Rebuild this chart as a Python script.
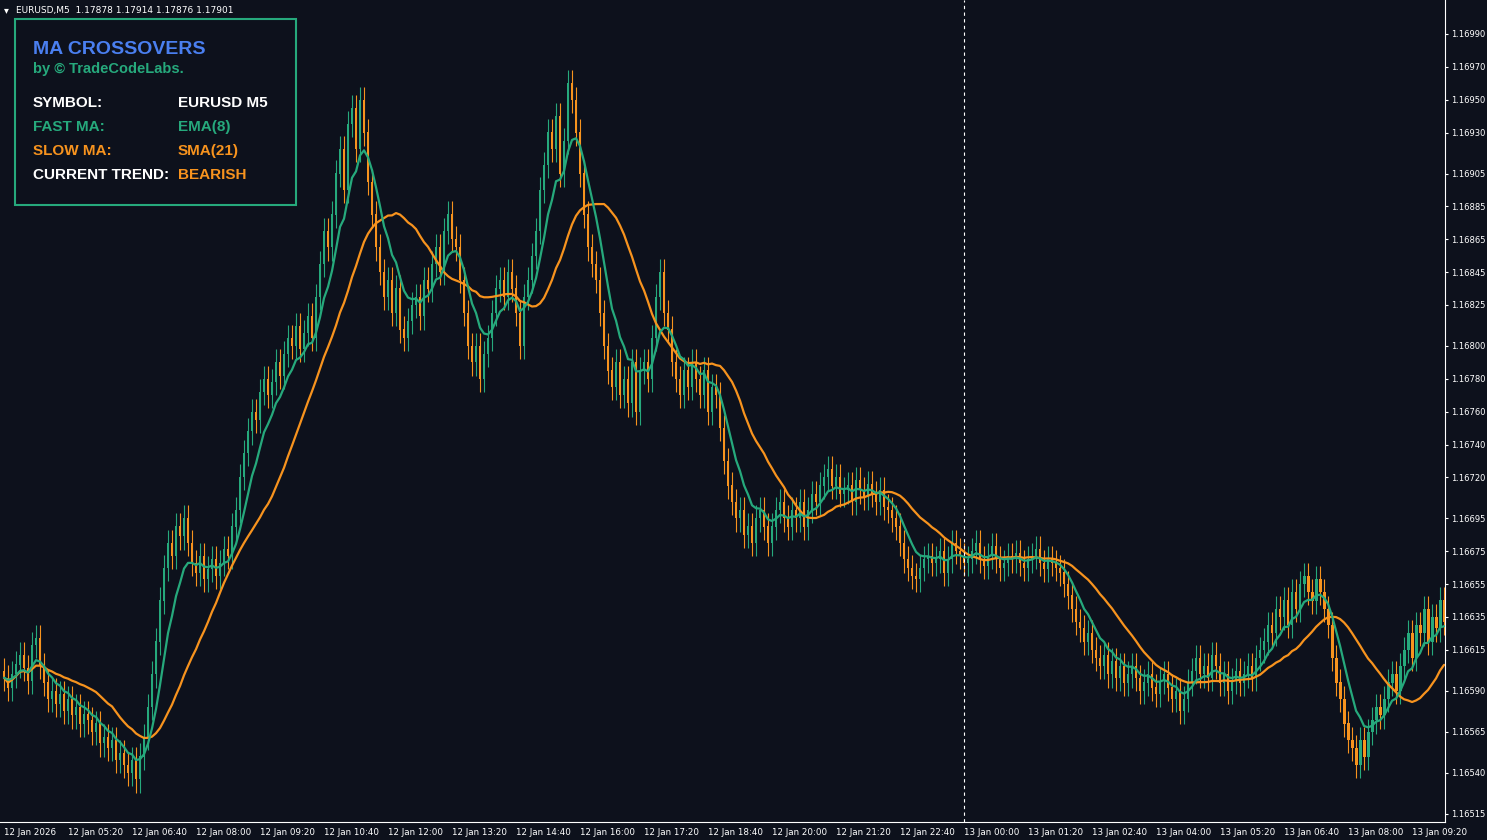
import numpy as np, pandas as pd, matplotlib
matplotlib.use("Agg")
import matplotlib.pyplot as plt, seaborn as sns

close_pts = [598,592,600,606,612,604,596,618,622,605,
595,585,590,582,588,578,585,575,580,570,
576,572,565,570,558,562,555,560,548,552,
545,540,548,536,550,562,
580,600,620,645,665,680,672,690,684,695,680,
668,662,672,658,664,670,660,668,676,672,690,700,
720,735,748,760,755,772,780,770,778,790,782,795,805,
800,812,798,808,818,805,830,850,870,860,
880,905,920,895,935,945,920,950,930,
900,880,860,845,830,840,820,835,810,
805,815,825,830,818,840,835,850,860,845,
870,880,865,860,
840,820,800,790,800,780,795,805,
820,835,840,830,845,835,820,800,830,840,
855,870,895,910,930,920,940,905,925,960,950,930,
905,880,860,850,840,820,
800,785,775,790,770,780,765,790,760,785,790,780,
805,830,845,820,810,
790,780,770,785,775,790,780,770,785,760,775,770,750,
730,715,705,695,700,685,690,680,695,700,690,680,
690,700,705,695,690,700,695,705,690,700,710,705,715,720,725,
715,720,710,712,715,705,718,712,708,716,710,705,712,702,700,695,690,680,
670,665,660,658,665,670,672,668,670,675,662,670,
680,675,672,668,670,675,680,670,666,672,678,670,665,668,672,670,674,668,665,670,672,676,668,664,670,668,665,662,
655,648,640,632,628,620,625,615,610,605,612,600,608,598,605,595,600,
605,598,590,595,600,592,588,596,600,592,585,590,578,585,595,602,610,600,605,598,
612,605,595,600,590,596,602,595,600,605,598,610,615,
620,630,625,640,635,645,630,650,640,655,660,650,645,658,650,640,630,
610,595,585,570,560,555,545,560,550,565,572,580,575,
585,595,600,590,605,615,625,610,630,625,640,620,635,628,645,632]
x_labels = ["12 Jan 2026","12 Jan 05:20","12 Jan 06:40","12 Jan 08:00","12 Jan 09:20","12 Jan 10:40",
"12 Jan 12:00","12 Jan 13:20","12 Jan 14:40","12 Jan 16:00","12 Jan 17:20","12 Jan 18:40","12 Jan 20:00",
"12 Jan 21:20","12 Jan 22:40","13 Jan 00:00","13 Jan 01:20","13 Jan 02:40","13 Jan 04:00","13 Jan 05:20",
"13 Jan 06:40","13 Jan 08:00","13 Jan 09:20"]
y_ticks = [1.16990,1.16970,1.16950,1.16930,1.16905,1.16885,1.16865,1.16845,1.16825,1.16800,1.16780,
1.16760,1.16740,1.16720,1.16695,1.16675,1.16655,1.16635,1.16615,1.16590,1.16565,1.16540,1.16515]

close = 1.16 + np.array(close_pts)*1e-5
opn = np.r_[close[0]+0.00004, close[:-1]]
wick = 0.00008
high = np.maximum(opn, close) + wick
low = np.minimum(opn, close) - wick
idx = np.arange(len(close))
df = pd.DataFrame({"i": idx, "close": close})
df["ema"] = df.close.ewm(span=8, adjust=False).mean()
df["sma"] = df.close.rolling(21, min_periods=1).mean()

BG = "#0d111c"; GREEN = "#26a97c"; ORANGE = "#f7931e"
sns.set_style("dark", {"axes.facecolor": BG, "figure.facecolor": BG})
fig = plt.figure(figsize=(14.87, 8.4), dpi=100)
ax = fig.add_axes([0.0, 0.0214, 0.9718, 0.9786])
up = close >= opn
cols = np.where(up, GREEN, ORANGE)
ax.vlines(idx, low, high, colors=cols, lw=0.8)
ax.bar(idx, np.abs(close-opn)+1e-6, bottom=np.minimum(opn, close), width=0.72, color=cols, lw=0)
sns.lineplot(data=df, x="i", y="sma", ax=ax, color=ORANGE, lw=1.6)
sns.lineplot(data=df, x="i", y="ema", ax=ax, color=GREEN, lw=1.6)
ax.axvline(240, color="white", ls=(0, (3, 3)), lw=0.8)
ax.set_xlim(-1, 360.25)
ax.set_ylim(1.165101, 1.170107)
ax.set_xticks(np.arange(len(x_labels))*16)
ax.set_xticklabels(x_labels, fontsize=6.3, color="white", ha="left")
ax.yaxis.tick_right()
ax.set_yticks(y_ticks)
ax.set_yticklabels([f"{v:.5f}" for v in y_ticks], fontsize=6.0, color="white")
ax.tick_params(length=2, color="white", pad=2)
ax.set_xlabel(""); ax.set_ylabel("")
ax.grid(False)
for s in ax.spines.values():
    s.set_color("white"); s.set_linewidth(0.8)
ax.spines["top"].set_visible(False); ax.spines["left"].set_visible(False)
fig.text(0.011, 0.988, "EURUSD,M5  1.17878 1.17914 1.17876 1.17901", color="white", fontsize=6.5, va="center")
fig.text(0.003, 0.988, "▾", color="white", fontsize=7, va="center")
box = plt.Rectangle((15/1487, 1-205/840), 281/1487, 186/840, transform=fig.transFigure,
                    fill=False, ec=GREEN, lw=1.5)
fig.add_artist(box)
def t(x, y, s, c, fs=11):
    fig.text(x/1487, 1-y/840, s, color=c, fontsize=fs, fontweight="bold", va="center", family="Liberation Sans")
t(33, 49, "MA CROSSOVERS", "#4a7ff0", 14)
t(33, 69, "by © TradeCodeLabs.", GREEN, 10.5)
rows = [("SYMBOL:", "EURUSD M5", "white", "white"), ("FAST MA:", "EMA(8)", GREEN, GREEN),
        ("SLOW MA:", "SMA(21)", ORANGE, ORANGE), ("CURRENT TREND:", "BEARISH", "white", ORANGE)]
for k, (a, b, ca, cb) in enumerate(rows):
    t(33, 103+24*k, a, ca); t(178, 103+24*k, b, cb)
fig.savefig("out.png", dpi=100, facecolor=BG)
